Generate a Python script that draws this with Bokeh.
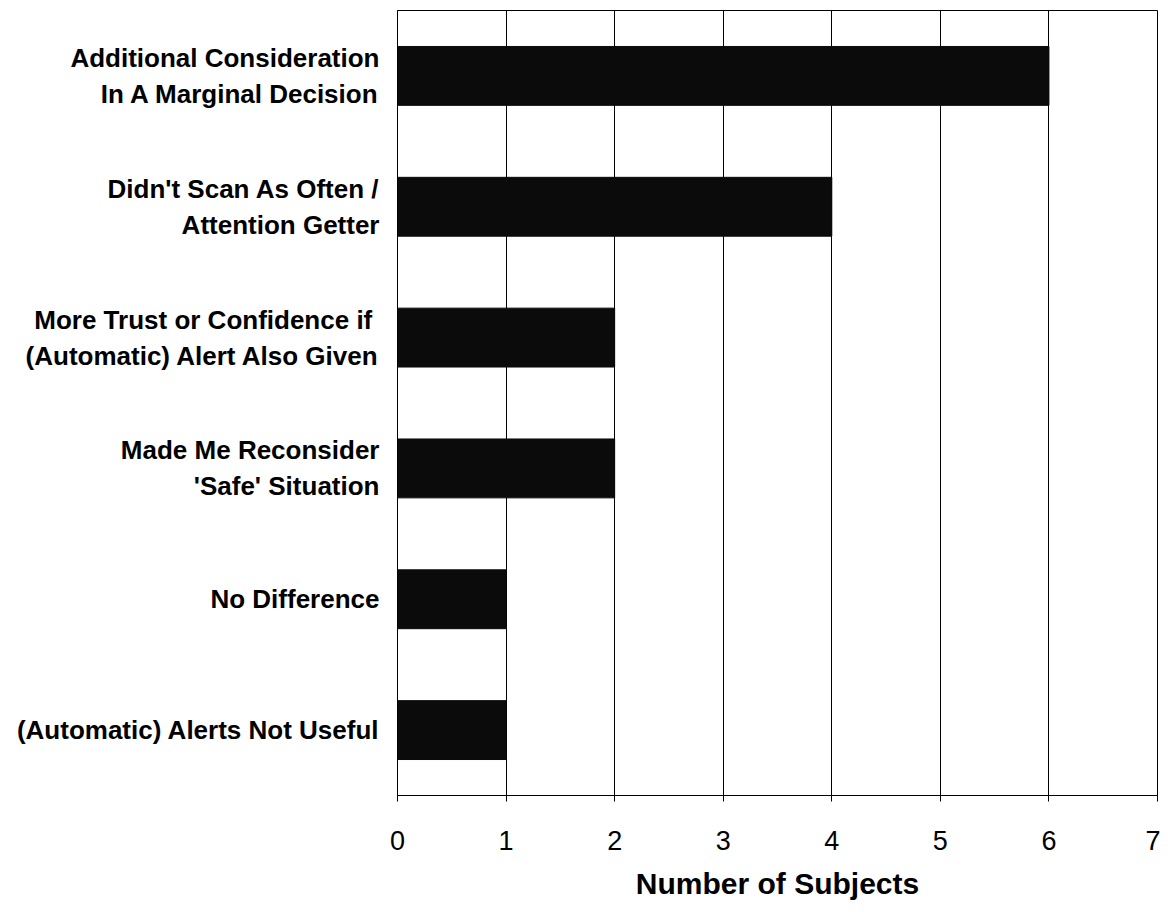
from bokeh.plotting import figure
from bokeh.models import FactorRange, Range1d, FixedTicker
from bokeh.embed import file_html
from bokeh.resources import INLINE

categories = [
    "Additional Consideration\nIn A Marginal Decision",
    "Didn't Scan As Often /\nAttention Getter",
    "More Trust or Confidence  if\n(Automatic) Alert Also Given",
    "Made Me Reconsider\n'Safe' Situation",
    "No Difference",
    "(Automatic) Alerts Not Useful",
]
counts = [6, 4, 2, 2, 1, 1]
x_ticks = [0, 1, 2, 3, 4, 5, 6, 7]

p = figure(
    width=1160, height=902,
    y_range=FactorRange(factors=list(reversed(categories)), range_padding=0),
    x_range=Range1d(0, 7),
    output_backend="svg", toolbar_location=None,
    min_border_left=397, min_border_right=3, min_border_top=10, min_border_bottom=102,
)
p.hbar(y=categories, right=counts, height=0.45, fill_color="#0b0b0b", line_color="#0b0b0b")

font = "Liberation Sans"
p.xaxis.ticker = FixedTicker(ticks=x_ticks)
p.xaxis.axis_label = "Number of Subjects"
p.xaxis.axis_label_text_font = font
p.xaxis.axis_label_text_font_style = "bold"
p.xaxis.axis_label_text_font_size = "30px"
p.xaxis.axis_label_text_color = "black"
p.xaxis.axis_label_standoff = 14
p.xaxis.major_label_text_font = font
p.xaxis.major_label_text_font_size = "27px"
p.xaxis.major_label_text_color = "black"
p.xaxis.major_label_standoff = 29
p.xaxis.major_tick_in = 0
p.xaxis.major_tick_out = 6
p.xaxis.minor_tick_line_color = None
p.xaxis.axis_line_color = "black"
p.xaxis.major_tick_line_color = "black"

p.yaxis.major_label_text_font = font
p.yaxis.major_label_text_font_style = "bold"
p.yaxis.major_label_text_font_size = "26px"
p.yaxis.major_label_text_color = "black"
p.yaxis.major_label_standoff = 12
p.yaxis.major_tick_line_color = None
p.yaxis.axis_line_color = "black"

p.xgrid.grid_line_color = "black"
p.xgrid.grid_line_alpha = 1.0
p.xgrid.grid_line_width = 1
p.ygrid.grid_line_color = None
p.outline_line_color = "black"
p.outline_line_alpha = 1.0

open("out.html", "w").write(file_html(p, INLINE))
